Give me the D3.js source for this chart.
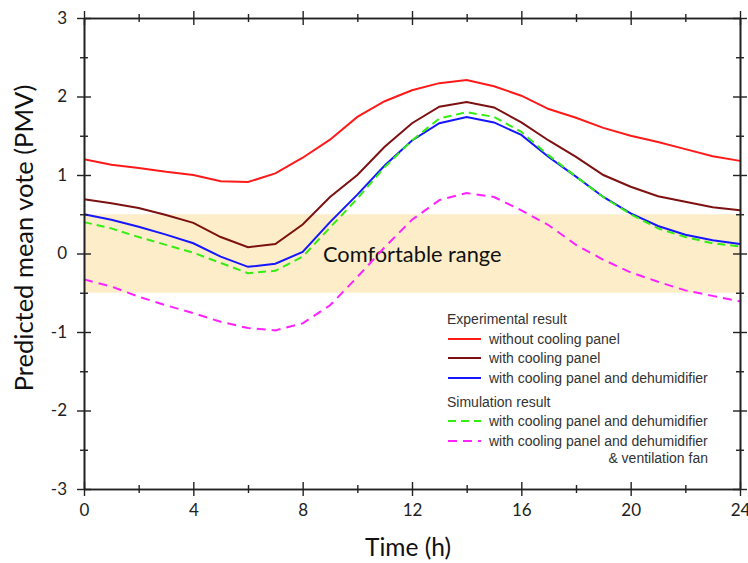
<!DOCTYPE html>
<html>
<head>
<meta charset="utf-8">
<script src="https://cdn.jsdelivr.net/npm/d3@7"></script>
<style>
  body { margin: 0; background: #fff; }
  svg { display: block; }
</style>
</head>
<body>
<svg id="chart" width="748" height="563"></svg>
<script>
// hours 0..24
const hours = d3.range(0, 25);

const withoutPanel = [1.20, 1.13, 1.09, 1.04, 1.00, 0.92, 0.91, 1.02, 1.22, 1.45, 1.74, 1.94, 2.08, 2.17, 2.21, 2.13, 2.01, 1.84, 1.73, 1.60, 1.50, 1.42, 1.33, 1.24, 1.18];
const withPanel = [0.69, 0.64, 0.58, 0.49, 0.39, 0.21, 0.08, 0.12, 0.37, 0.72, 1.00, 1.36, 1.66, 1.87, 1.93, 1.86, 1.67, 1.44, 1.23, 1.00, 0.85, 0.73, 0.66, 0.59, 0.55];
const panelDehum = [0.50, 0.43, 0.34, 0.24, 0.13, -0.04, -0.17, -0.13, 0.02, 0.40, 0.75, 1.12, 1.44, 1.66, 1.74, 1.67, 1.51, 1.23, 0.98, 0.72, 0.51, 0.35, 0.24, 0.17, 0.12];
const simPanelDehum = [0.40, 0.32, 0.21, 0.11, 0.01, -0.12, -0.25, -0.22, -0.04, 0.33, 0.70, 1.10, 1.44, 1.72, 1.80, 1.74, 1.55, 1.25, 0.98, 0.72, 0.50, 0.32, 0.21, 0.13, 0.09];
const simVentFan = [-0.33, -0.42, -0.55, -0.66, -0.76, -0.87, -0.95, -0.98, -0.89, -0.66, -0.30, 0.08, 0.43, 0.68, 0.77, 0.72, 0.55, 0.36, 0.11, -0.08, -0.24, -0.36, -0.47, -0.54, -0.61];

const xMajor = [0, 4, 8, 12, 16, 20, 24];
const xMinor = [2, 6, 10, 14, 18, 22];
const yMajor = [-3, -2, -1, 0, 1, 2, 3];
const yMinor = [-2.5, -1.5, -0.5, 0.5, 1.5, 2.5];
const comfort = [-0.5, 0.5];

const series = [
  {name: "without cooling panel", values: withoutPanel, color: "#ff1a1a", dash: null},
  {name: "with cooling panel", values: withPanel, color: "#7d1111", dash: null},
  {name: "with cooling panel and dehumidifier", values: panelDehum, color: "#1616ff", dash: null},
  {name: "with cooling panel and dehumidifier", values: simPanelDehum, color: "#33ee11", dash: "8,5"},
  {name: "with cooling panel and dehumidifier", values: simVentFan, color: "#ff22ff", dash: "9,6"}
];

const svg = d3.select("#chart");
const mLeft = 84, mRight = 740, mTop = 18, mBottom = 489;

const x = d3.scaleLinear().domain([0, 24]).range([mLeft, mRight]);
const y = d3.scaleLinear().domain([-3, 3]).range([mBottom, mTop]);

// comfortable band
svg.append("rect")
  .attr("x", x(0)).attr("width", x(24) - x(0))
  .attr("y", y(comfort[1])).attr("height", y(comfort[0]) - y(comfort[1]))
  .attr("fill", "#fdedc9");

const font = "Lato, 'Open Sans', sans-serif";

svg.append("text")
  .attr("x", 323).attr("y", 262)
  .attr("font-family", font)
  .attr("font-size", 21.8)
  .attr("fill", "#111")
  .text("Comfortable range");

// lines
const line = d3.line()
  .x((d, i) => x(hours[i]))
  .y(d => y(d));

series.forEach(s => {
  svg.append("path")
    .datum(s.values)
    .attr("d", line)
    .attr("fill", "none")
    .attr("stroke", s.color)
    .attr("stroke-width", 2)
    .attr("stroke-dasharray", s.dash);
});

// axes, ticks crossing the frame
function cross(g, len, vertical) {
  g.select(".domain").attr("stroke", "#222").attr("stroke-width", 1.6);
  g.selectAll(".tick line")
    .attr("stroke", "#222").attr("stroke-width", 1.4)
    .attr(vertical ? "x1" : "y1", -len)
    .attr(vertical ? "x2" : "y2", len);
}

svg.append("g").attr("transform", `translate(0,${mBottom})`)
  .call(d3.axisBottom(x).tickValues(xMinor).tickSize(0).tickFormat(""))
  .call(g => cross(g, 4, false));
svg.append("g").attr("transform", `translate(0,${mBottom})`)
  .call(d3.axisBottom(x).tickValues(xMajor).tickSize(0).tickPadding(15).tickFormat(d => String(d)))
  .call(g => cross(g, 7, false))
  .call(g => g.selectAll("text").attr("font-family", font).attr("font-size", 17).attr("fill", "#222"));

svg.append("g").attr("transform", `translate(0,${mTop})`)
  .call(d3.axisTop(x).tickValues(xMinor).tickSize(0).tickFormat(""))
  .call(g => cross(g, 4, false));
svg.append("g").attr("transform", `translate(0,${mTop})`)
  .call(d3.axisTop(x).tickValues(xMajor).tickSize(0).tickFormat(""))
  .call(g => cross(g, 7, false));

svg.append("g").attr("transform", `translate(${mLeft},0)`)
  .call(d3.axisLeft(y).tickValues(yMinor).tickSize(0).tickFormat(""))
  .call(g => cross(g, 4, true));
svg.append("g").attr("transform", `translate(${mLeft},0)`)
  .call(d3.axisLeft(y).tickValues(yMajor).tickSize(0).tickPadding(17).tickFormat(d => String(d)))
  .call(g => cross(g, 7, true))
  .call(g => g.selectAll("text").attr("font-family", font).attr("font-size", 17).attr("fill", "#222"));

svg.append("g").attr("transform", `translate(${mRight},0)`)
  .call(d3.axisRight(y).tickValues(yMinor).tickSize(0).tickFormat(""))
  .call(g => cross(g, 4, true));
svg.append("g").attr("transform", `translate(${mRight},0)`)
  .call(d3.axisRight(y).tickValues(yMajor).tickSize(0).tickFormat(""))
  .call(g => cross(g, 7, true));

// axis titles
svg.append("text")
  .attr("x", 408).attr("y", 556)
  .attr("text-anchor", "middle")
  .attr("font-family", font).attr("font-size", 24.5).attr("fill", "#111")
  .text("Time (h)");

svg.append("text")
  .attr("transform", "translate(33,238) rotate(-90)")
  .attr("text-anchor", "middle")
  .attr("font-family", font).attr("font-size", 25.5).attr("fill", "#111")
  .text("Predicted mean vote (PMV)");

// legend
const legFont = "'Liberation Sans', Arial, sans-serif";
const leg = svg.append("g").attr("font-family", legFont).attr("font-size", 14).attr("fill", "#333");

leg.append("text").attr("x", 447).attr("y", 324).text("Experimental result");
leg.append("text").attr("x", 447).attr("y", 407).text("Simulation result");

const legRows = [339, 358, 378, 421, 441];
series.forEach((s, i) => {
  const ly = legRows[i];
  leg.append("line")
    .attr("x1", 448).attr("x2", 481).attr("y1", ly).attr("y2", ly)
    .attr("stroke", s.color).attr("stroke-width", 2)
    .attr("stroke-dasharray", s.dash);
  leg.append("text").attr("x", 489).attr("y", ly + 5).text(s.name);
});
leg.append("text").attr("x", 708).attr("y", 463).attr("text-anchor", "end").text("& ventilation fan");
</script>
</body>
</html>
